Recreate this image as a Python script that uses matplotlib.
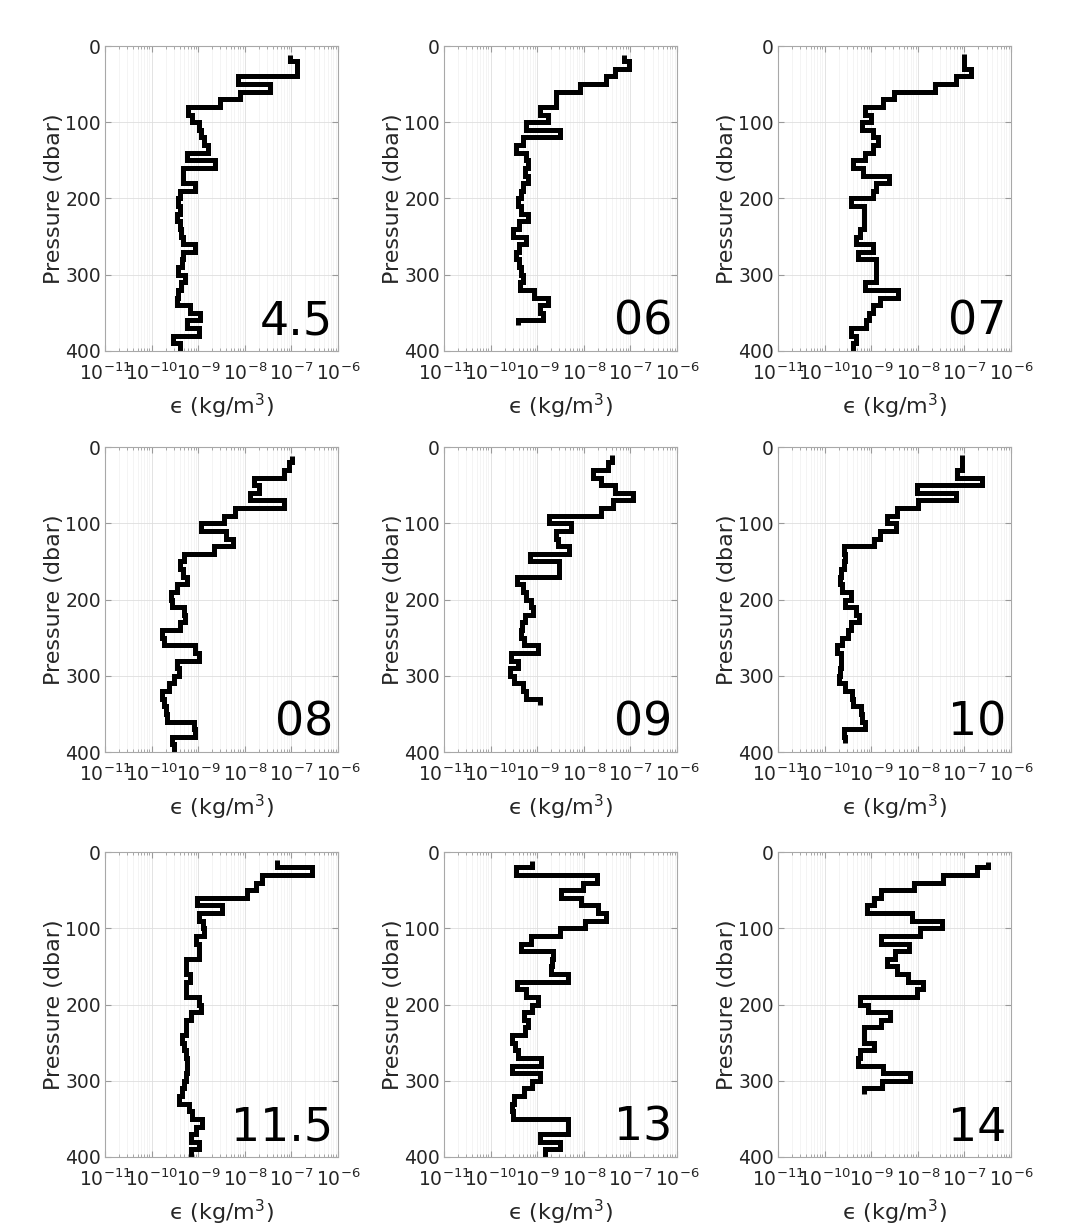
import numpy as np
import matplotlib
matplotlib.use("Agg")
import matplotlib.pyplot as plt
from matplotlib.ticker import LogLocator, NullFormatter

# station labels
labels = ["4.5", "06", "07", "08", "09", "10", "11.5", "13", "14"]

# top / bottom pressure of each profile (dbar)
p_top = [12, 12, 11, 12, 11, 11, 11, 12, 13]
p_bot = [400, 366, 400, 400, 338, 388, 400, 400, 317]

# log10(epsilon) in 10 dbar bins, first bin from p_top to 20 dbar
eps_45 = [-7.04, -6.89, -6.89, -8.14, -7.46, -8.11, -8.54, -9.21, -9.14,
          -8.98, -8.93, -8.88, -8.79, -9.25, -8.64, -9.32, -9.32, -9.07, -9.39,
          -9.43, -9.39, -9.46, -9.39, -9.36, -9.32, -9.07, -9.32, -9.34, -9.43,
          -9.29, -9.36, -9.43, -9.46, -9.18, -8.96, -9.25, -8.98, -9.54, -9.39]
eps_06 = [-7.13, -7.04, -7.34, -7.52, -8.09, -8.59, -8.59, -8.95, -8.77,
          -9.24, -8.52, -9.31, -9.45, -9.24, -9.20, -9.27, -9.20, -9.31, -9.34,
          -9.41, -9.34, -9.20, -9.38, -9.51, -9.24, -9.39, -9.45, -9.39, -9.34,
          -9.31, -9.36, -9.06, -8.77, -8.95, -8.88, -9.41]
eps_07 = [-7.00, -7.00, -6.86, -7.18, -7.64, -8.50, -8.75, -9.14, -9.00,
          -9.19, -8.96, -8.86, -8.96, -9.14, -9.39, -9.18, -8.61, -8.89, -8.96,
          -9.43, -9.16, -9.16, -9.16, -9.25, -9.32, -8.96, -9.29, -8.89, -8.89,
          -8.89, -9.14, -8.43, -8.82, -8.96, -9.04, -9.11, -9.43, -9.32, -9.39]
eps_08 = [-6.99, -7.06, -7.16, -7.81, -7.70, -7.88, -7.16, -8.20, -8.45,
          -8.95, -8.41, -8.25, -8.66, -9.31, -9.39, -9.32, -9.25, -9.45, -9.59,
          -9.56, -9.31, -9.29, -9.38, -9.77, -9.74, -9.06, -8.99, -9.45, -9.41,
          -9.52, -9.63, -9.77, -9.74, -9.70, -9.67, -9.09, -9.06, -9.56, -9.52]
eps_09 = [-7.40, -7.49, -7.81, -7.63, -7.34, -6.95, -7.38, -7.63, -8.74,
          -8.27, -8.59, -8.56, -8.31, -9.16, -8.54, -8.54, -9.44, -9.31, -9.24,
          -9.13, -9.09, -9.27, -9.32, -9.34, -9.29, -8.99, -9.56, -9.42, -9.59,
          -9.49, -9.31, -9.24, -8.95]
eps_10 = [-7.06, -7.06, -7.16, -6.63, -8.02, -7.18, -7.99, -8.45, -8.66,
          -8.46, -8.81, -8.95, -9.59, -9.57, -9.59, -9.65, -9.66, -9.63, -9.44,
          -9.57, -9.32, -9.27, -9.44, -9.49, -9.63, -9.74, -9.64, -9.65, -9.66,
          -9.70, -9.56, -9.41, -9.39, -9.22, -9.20, -9.13, -9.59, -9.57]
eps_115 = [-7.31, -6.56, -7.63, -7.77, -7.95, -9.02, -8.49, -8.99, -8.89,
           -8.87, -9.04, -8.99, -8.99, -9.27, -9.27, -9.18, -9.27, -9.27, -8.99,
           -8.94, -9.16, -9.27, -9.27, -9.34, -9.31, -9.27, -9.25, -9.25, -9.27,
           -9.31, -9.34, -9.41, -9.20, -9.13, -8.91, -9.04, -9.16, -8.99, -9.16]
eps_13 = [-9.11, -9.46, -7.71, -8.01, -8.48, -8.05, -7.69, -7.53, -7.98,
          -8.51, -9.14, -9.34, -8.66, -8.68, -8.71, -8.34, -9.44, -9.23, -8.98,
          -9.12, -9.29, -9.19, -9.26, -9.55, -9.48, -9.41, -8.91, -9.55, -8.94,
          -9.12, -9.29, -9.49, -9.55, -9.51, -8.34, -8.34, -8.94, -8.51, -8.84]
eps_14 = [-6.49, -6.74, -7.46, -8.08, -8.79, -8.95, -9.09, -8.13, -7.49,
          -7.95, -8.79, -8.18, -8.49, -8.66, -8.45, -8.20, -7.88, -8.02, -9.25,
          -9.06, -8.59, -8.79, -9.16, -9.16, -8.95, -9.25, -9.29, -8.74, -8.16,
          -8.77, -9.16]

profiles = [eps_45, eps_06, eps_07, eps_08, eps_09, eps_10, eps_115, eps_13, eps_14]

xticks = [1e-11, 1e-10, 1e-9, 1e-8, 1e-7, 1e-6]
xticklabels = [r"$10^{-11}$", r"$10^{-10}$", r"$10^{-9}$", r"$10^{-8}$",
               r"$10^{-7}$", r"$10^{-6}$"]
yticks = [0, 100, 200, 300, 400]

W, H = 1071, 1229
fig = plt.figure(figsize=(W / 100, H / 100), dpi=100)
plt.rcParams["mathtext.fontset"] = "dejavusans"

col_left = [105, 444, 778]
row_bottom = [351, 752, 1157]
aw, ah = 233, 305

txt = "#262626"
for k, (vals, lab) in enumerate(zip(profiles, labels)):
    r, c = divmod(k, 3)
    ax = fig.add_axes([col_left[c] / W, (H - row_bottom[r]) / H, aw / W, ah / H])
    n = len(vals)
    edges = np.r_[p_top[k], np.arange(20, 20 + 10 * (n - 1), 10), p_bot[k]]
    ax.stairs(10.0 ** np.array(vals), edges, orientation="horizontal",
              baseline=None, color="k", lw=3.6)
    ax.set_xscale("log")
    ax.set_xlim(1e-11, 1e-6)
    ax.set_ylim(400, 0)
    ax.set_xticks(xticks)
    ax.set_xticklabels(xticklabels)
    ax.xaxis.set_minor_locator(LogLocator(base=10, subs=np.arange(2, 10), numticks=20))
    ax.xaxis.set_minor_formatter(NullFormatter())
    ax.set_yticks(yticks)
    ax.grid(True, which="major", color="#dedede", lw=0.6)
    ax.grid(True, which="minor", axis="x", color="#f0f0f0", lw=0.5)
    ax.tick_params(which="both", direction="in", top=True, right=True,
                   colors="#9a9a9a", labelcolor=txt, labelsize=13.5)
    ax.tick_params(which="major", length=4, pad=3)
    ax.tick_params(which="minor", length=2)
    ax.tick_params(axis="x", which="major", pad=8)
    for s in ax.spines.values():
        s.set_color("#a8a8a8")
        s.set_linewidth(0.8)
    ax.set_axisbelow(True)
    ax.set_ylabel("Pressure (dbar)", fontsize=16, color=txt, labelpad=1)
    ax.set_xlabel("\u03f5 (kg/m$^3$)", fontsize=16, color=txt, labelpad=6)
    ax.text(0.98, 0.02, lab, transform=ax.transAxes, ha="right", va="bottom",
            fontsize=33, color="k")

fig.savefig("out.png", dpi=100)
